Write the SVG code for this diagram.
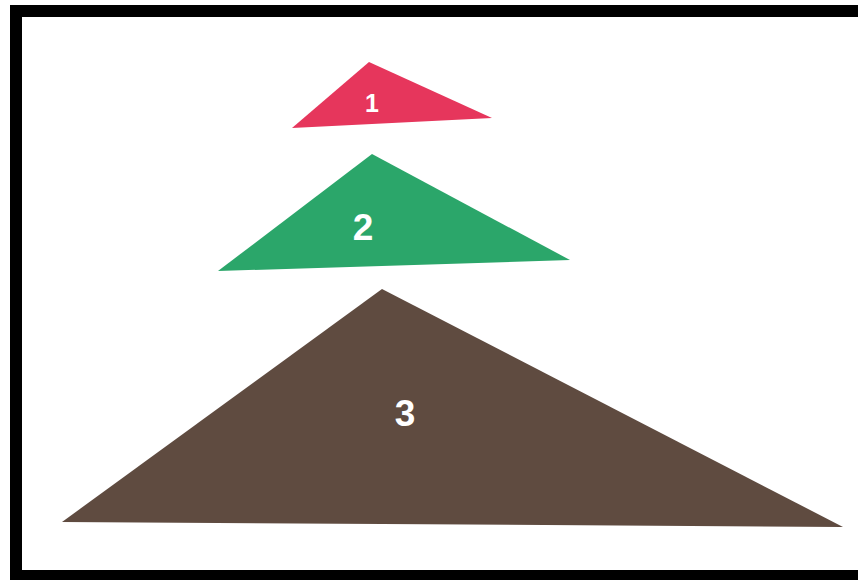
<svg xmlns="http://www.w3.org/2000/svg" width="858" height="580" viewBox="0 0 858 580">
<style>
.lbl{font-family:"Liberation Sans",Arial,sans-serif;font-weight:bold;fill:#ffffff;text-anchor:middle}
</style>
<rect x="0" y="0" width="858" height="580" fill="#ffffff"/>
<g id="frame" fill="#000000">
<rect x="10" y="5" width="848" height="12"/>
<rect x="10" y="5" width="12" height="575"/>
<rect x="10" y="570" width="848" height="10"/>
</g>
<g id="triangle1">
<polygon points="369,62 292,128 492,118" fill="#e6365c"/>
<text class="lbl" x="372" y="112" font-size="25">1</text>
</g>
<g id="triangle2">
<polygon points="372,154 218,271 570,260" fill="#2ba66a"/>
<text class="lbl" x="363" y="240" font-size="37">2</text>
</g>
<g id="triangle3">
<polygon points="382,289 62,522 843,527" fill="#5f4b40"/>
<text class="lbl" x="405" y="426" font-size="37">3</text>
</g>
</svg>
